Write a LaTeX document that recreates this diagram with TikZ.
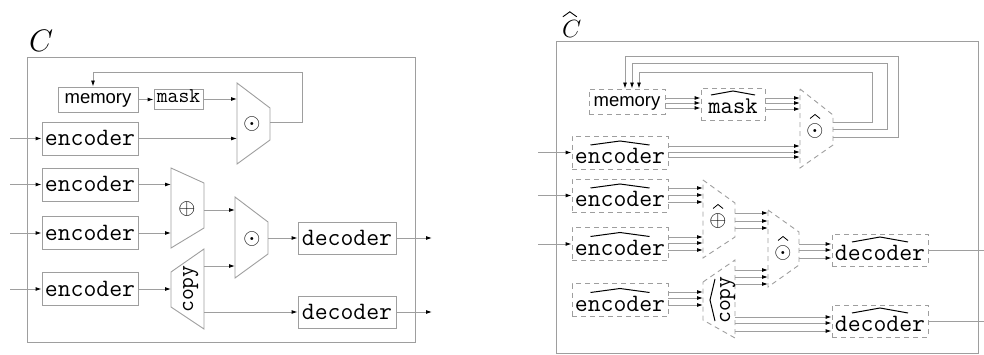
\documentclass[tikz,border=0pt]{standalone}
\usepackage{fontspec}
\newfontfamily\sansm{Liberation Sans}
\usetikzlibrary{arrows.meta}
\definecolor{lgray}{gray}{0.62}
\newcommand\setfs[1]{\fontsize{#1}{#1}\selectfont}
\newcommand\symb[1]{\scalebox{1.06}{$#1$}}
\newcommand\hatover[4]{\draw[hatline] ([xshift=-#2pt,yshift=#3pt]#1.center) -- ([yshift=#4pt]#1.center) -- ([xshift=#2pt,yshift=#3pt]#1.center);}
\begin{document}
\begin{tikzpicture}[x=1pt,y=-1pt,
  gline/.style={draw=lgray,line width=0.9pt},
  dline/.style={gline,dash pattern=on 5pt off 4pt},
  arr/.style={draw=lgray,line width=0.9pt,-{Latex[length=6pt,width=4pt,color=black]}},
  hatline/.style={draw=black,line width=1pt,line join=miter},
  ttf/.style={font=\ttfamily\setfs{25}},
  lbox/.style={gline,inner sep=0pt,minimum width=96pt,minimum height=33pt,text height=21pt,text depth=6pt},
  rbox/.style={dline,inner sep=0pt},
  hbox/.style={rbox,ttf,minimum width=96pt,minimum height=33pt,text height=28pt,text depth=5pt},
  sym/.style={anchor=base,inner sep=0pt,font=\setfs{20.74}}]
\useasboundingbox (0,0) rectangle (984,355);

% ================= LEFT =================
\node[anchor=base west,inner sep=0pt,font=\setfs{24.88}] (lC) at (29,52) {\scalebox{1.25}{$C$}};
\draw[gline] (27,57) rectangle (415,342);

\node[lbox,minimum width=80pt,minimum height=25pt,text height=12pt,text depth=4pt,font=\sansm\setfs{18.5}] (mem) at (98,99.5) {memory};
\node[lbox,minimum width=49pt,minimum height=20pt,text height=8pt,text depth=0pt,font=\ttfamily\setfs{21}] (mask) at (178.5,99) {mask};
\node[lbox,ttf] (e1) at (90,138.5) {encoder};
\node[lbox,ttf] (e2) at (90,184.5) {encoder};
\node[lbox,ttf] (e3) at (90,233) {encoder};
\node[lbox,ttf] (e4) at (90,289) {encoder};
\node[lbox,ttf,minimum width=98pt,minimum height=32pt] (d1) at (347,238) {decoder};
\node[lbox,ttf,minimum width=98pt,minimum height=32pt] (d2) at (347,312) {decoder};

\draw[gline] (237,83) -- (270,108) -- (270,140) -- (237,164) -- cycle;
\node[sym] (od1) at (252,129.5) {\symb{\odot}};
\draw[gline] (171,168) -- (204,183) -- (204,228) -- (171,248) -- cycle;
\node[sym] (op) at (187,214.5) {\symb{\oplus}};
\draw[gline] (235,197) -- (268,222) -- (268,254) -- (235,278) -- cycle;
\node[sym] (od2) at (252,244.5) {\symb{\odot}};
\draw[gline] (171,272) -- (204,249) -- (204,329) -- (171,307) -- cycle;
\node[rotate=90,anchor=base,inner sep=0pt,font=\ttfamily\setfs{23}] (cp) at (193,289) {copy};

\coordinate (in1) at (10,138.5);
\coordinate (in2) at (10,184.5);
\coordinate (in3) at (10,233);
\coordinate (in4) at (10,289);
\coordinate (out1) at (432,238);
\coordinate (out2) at (432,312);
\coordinate (od1L) at (237,124);
\coordinate (od1R) at (270,122);
\coordinate (opL) at (171,208);
\coordinate (opR) at (204,210);
\coordinate (od2L) at (235,240);
\coordinate (od2R) at (268,238);
\coordinate (cpL) at (171,289);
\coordinate (cpR) at (204,266);
\coordinate (cpR2) at (204,312);
\coordinate (fb) at (302,72);

\draw[arr] (in1) -- (e1.west);
\draw[arr] (in2) -- (e2.west);
\draw[arr] (in3) -- (e3.west);
\draw[arr] (in4) -- (e4.west);
\draw[arr] (mem.east) -- (mem.east -| mask.west);
\draw[arr] (mask.east) -- (mask.east -| od1L);
\draw[arr] (e1.east) -- (e1.east -| od1L);
\draw[arr] (od1R) -| (fb) -| ([xshift=-5pt]mem.north);
\draw[arr] (e2.east) -- (e2.east -| opL);
\draw[arr] (e3.east) -- (e3.east -| opL);
\draw[arr] (opR) -- (opR -| od2L);
\draw[arr] (e4.east) -- (e4.east -| cpL);
\draw[arr] (cpR) -- (cpR -| od2L);
\draw[arr] (od2R) -- (od2R -| d1.west);
\draw[arr] (cpR2) -- (cpR2 -| d2.west);
\draw[arr] (d1.east) -- (out1);
\draw[arr] (d2.east) -- (out2);

% ================= RIGHT =================
\node[anchor=base west,inner sep=0pt,font=\setfs{24.88}] (rC) at (562,38) {$C$};
\draw[hatline,line width=0.9pt] ([xshift=-9pt,yshift=4pt]rC.north) -- ([xshift=-2pt,yshift=9pt]rC.north) -- ([xshift=5pt,yshift=4pt]rC.north);
\draw[gline] (556,41) rectangle (978,353);

\node[rbox,minimum width=76pt,minimum height=25pt,text height=13pt,text depth=2pt,font=\sansm\setfs{18.5}] (memh) at (627,101.5) {memory};
\node[rbox,minimum width=64pt,minimum height=32pt,text height=26pt,text depth=6pt,font=\ttfamily\setfs{24}] (maskh) at (733,104) {mask};
\hatover{maskh}{22}{9}{13}
\node[hbox] (e1h) at (620,152.5) {encoder};
\node[hbox] (e2h) at (620,195.5) {encoder};
\node[hbox] (e3h) at (620,244) {encoder};
\node[hbox] (e4h) at (620,300) {encoder};
\foreach \n in {e1h,e2h,e3h,e4h} {\hatover{\n}{29.5}{7.5}{11.5}}
\node[hbox,minimum height=32pt,text height=26pt,text depth=6pt] (d1h) at (880,250) {decoder};
\node[hbox,minimum height=32pt,text height=26pt,text depth=6pt] (d2h) at (880,321) {decoder};
\foreach \n in {d1h,d2h} {\hatover{\n}{28}{8}{13}}

\draw[dline] (800,89) -- (833,115) -- (833,145) -- (800,168) -- cycle;
\node[sym] (od1h) at (815,136.5) {\symb{\odot}};
\draw[dline] (703,180) -- (735,203) -- (735,237) -- (703,258) -- cycle;
\node[sym] (oph) at (718,226.5) {\symb{\oplus}};
\draw[dline] (768,210) -- (799,232) -- (799,265) -- (768,287) -- cycle;
\node[sym] (od2h) at (783,258.5) {\symb{\odot}};
\foreach \n in {od1h,oph,od2h} {\draw[hatline,line width=0.8pt] ([xshift=-5pt,yshift=12.5pt]\n.center) -- ([yshift=16.5pt]\n.center) -- ([xshift=5pt,yshift=12.5pt]\n.center);}
\draw[dline] (703,282) -- (735,260) -- (735,338) -- (703,320) -- cycle;
\node[rotate=90,anchor=base,inner sep=0pt,font=\ttfamily\setfs{23}] (cph) at (730,300) {copy};
\draw[hatline] ([xshift=-15pt,yshift=21pt]cph.base) -- ([xshift=-20pt]cph.base) -- ([xshift=-15pt,yshift=-21pt]cph.base);

\coordinate (in1h) at (538,152.5);
\coordinate (in2h) at (538,195.5);
\coordinate (in3h) at (538,244);
\coordinate (od1hL) at (800,0);
\coordinate (od1hR) at (833,0);
\coordinate (ophL) at (703,0);
\coordinate (ophR) at (735,0);
\coordinate (od2hL) at (768,0);
\coordinate (od2hR) at (799,0);
\coordinate (cphL) at (703,0);
\coordinate (cphR) at (735,0);
\coordinate (fb1h) at (872,72);
\coordinate (fb2h) at (887,63);
\coordinate (fb3h) at (898,56);
\coordinate (out1h) at (984,250);
\coordinate (out2h) at (984,321);

\draw[arr] (in1h) -- (e1h.west);
\draw[arr] (in2h) -- (e2h.west);
\draw[arr] (in3h) -- (e3h.west);
\foreach \yy in {98,103,108} {\draw[arr] (memh.east |- 0,\yy) -- (maskh.west |- 0,\yy);}
\foreach \yy in {98,103,109} {\draw[arr] (maskh.east |- 0,\yy) -- (od1hL |- 0,\yy);}
\foreach \yy in {146,152,157} {\draw[arr] (e1h.east |- 0,\yy) -- (od1hL |- 0,\yy);}
\draw[arr] (od1hR |- 0,122) -| (fb1h) -| ([xshift=12pt]memh.north);
\draw[arr] (od1hR |- 0,129) -| (fb2h) -| ([xshift=5pt]memh.north);
\draw[arr] (od1hR |- 0,137) -| (fb3h) -| ([xshift=-2pt]memh.north);
\foreach \yy in {188,195,202} {\draw[arr] (e2h.east |- 0,\yy) -- (ophL |- 0,\yy);}
\foreach \yy in {237,243,250} {\draw[arr] (e3h.east |- 0,\yy) -- (ophL |- 0,\yy);}
\foreach \yy in {213,221,228} {\draw[arr] (ophR |- 0,\yy) -- (od2hL |- 0,\yy);}
\foreach \yy in {292,298,305} {\draw[arr] (e4h.east |- 0,\yy) -- (cphL |- 0,\yy);}
\foreach \yy in {270,277,284} {\draw[arr] (cphR |- 0,\yy) -- (od2hL |- 0,\yy);}
\foreach \yy in {244,250,258} {\draw[arr] (od2hR |- 0,\yy) -- (d1h.west |- 0,\yy);}
\foreach \yy in {317,323,331} {\draw[arr] (cphR |- 0,\yy) -- (d2h.west |- 0,\yy);}
\draw[gline] (d1h.east) -- (out1h);
\draw[gline] (d2h.east) -- (out2h);
\end{tikzpicture}
\end{document}
